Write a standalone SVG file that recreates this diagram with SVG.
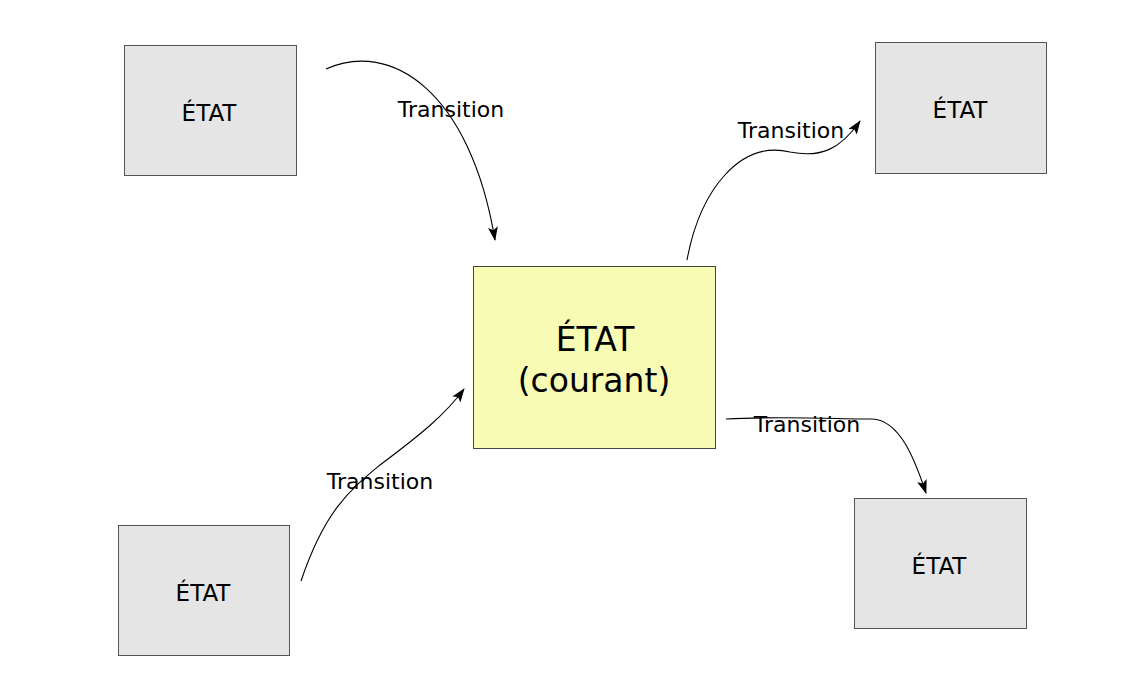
<svg xmlns="http://www.w3.org/2000/svg" width="1129" height="678" viewBox="0 0 1129 678">
<style>
.box{fill:#e5e5e5;stroke:#555;stroke-width:1}
.cur{fill:#f8fbb4;stroke:#444;stroke-width:1}
.t{font-family:"DejaVu Sans",sans-serif;fill:#000;text-anchor:middle}
.lbl{font-family:"DejaVu Sans",sans-serif;font-size:22px;fill:#000;text-anchor:middle}
.c{fill:none;stroke:#000;stroke-width:1.1}
</style>
<defs>
<marker id="ah" markerWidth="14" markerHeight="10" refX="13" refY="5" orient="auto" markerUnits="userSpaceOnUse">
<path d="M0,0 L14,5 L0,10 L3,5 Z" fill="#000"/>
</marker>
</defs>
<rect width="1129" height="678" fill="#fff"/>
<g id="n-tl"><rect class="box" x="124.5" y="45.5" width="172" height="130"/><text class="t" x="209" y="121" font-size="23">ÉTAT</text></g>
<g id="n-tr"><rect class="box" x="875.5" y="42.5" width="171" height="131"/><text class="t" x="960" y="118" font-size="23">ÉTAT</text></g>
<g id="n-bl"><rect class="box" x="118.5" y="525.5" width="171" height="130"/><text class="t" x="203" y="601" font-size="23">ÉTAT</text></g>
<g id="n-br"><rect class="box" x="854.5" y="498.5" width="172" height="130"/><text class="t" x="939" y="574" font-size="23">ÉTAT</text></g>
<g id="n-cur"><rect class="cur" x="473.5" y="266.5" width="242" height="182"/><text class="t" x="595" y="351" font-size="33">ÉTAT</text><text class="t" x="594" y="392" font-size="33">(courant)</text></g>
<g id="connectors">
<path class="c" d="M326,69 C390,40 470,90 495,240" marker-end="url(#ah)"/>
<path class="c" d="M687,260 C700,190 740,140 790,152 C820,158 840,150 860,121" marker-end="url(#ah)"/>
<path class="c" d="M301,581 C325,510 350,490 380,465 C420,435 445,415 464,389" marker-end="url(#ah)"/>
<path class="c" d="M726,419 C780,416 840,419 872,419 C900,420 915,460 926,493" marker-end="url(#ah)"/>
<text class="lbl" x="451" y="117">Transition</text>
<text class="lbl" x="791" y="138">Transition</text>
<text class="lbl" x="380" y="489">Transition</text>
<text class="lbl" x="807" y="432">Transition</text>
</g>
</svg>
